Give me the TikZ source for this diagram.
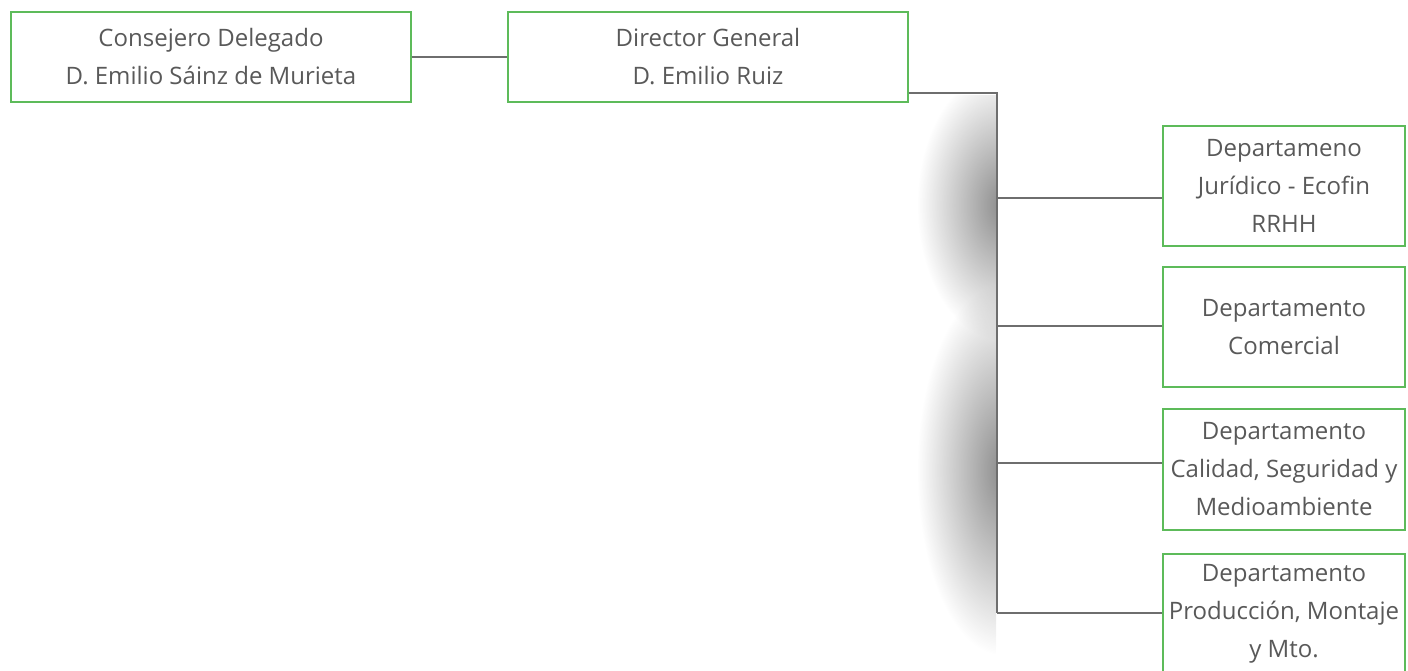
\documentclass[tikz,border=0pt]{standalone}
\usepackage{fontspec}
\setmainfont{Open Sans}
\usetikzlibrary{fadings}
\tikzfading[name=softedge, inner color=transparent!0, outer color=transparent!100]
\definecolor{boxgreen}{HTML}{5DBB5A}
\definecolor{txtgray}{HTML}{595959}
\definecolor{linegray}{HTML}{6E6E6E}
\begin{document}
\begin{tikzpicture}[x=1pt,y=-1pt,
  orgbox/.style={draw=boxgreen,line width=1.4pt,fill=white,rectangle,align=center,
    text=txtgray,font=\fontsize{24}{38}\selectfont,inner sep=0pt},
  topbox/.style={orgbox,minimum width=400pt,minimum height=90pt},
  deptbox/.style={orgbox,minimum width=242pt,minimum height=120pt},
  conn/.style={draw=linegray,line width=1.4pt}]
\useasboundingbox (0,0) rectangle (1408,670);
% soft shadow left of the vertical connector
\begin{scope}
  \clip (900,95) rectangle (996,670);
  \fill[black!45,path fading=softedge] (1002,205) ellipse [x radius=85pt,y radius=135pt];
  \fill[black!45,path fading=softedge] (1002,470) ellipse [x radius=85pt,y radius=185pt];
\end{scope}
\node[topbox] (cd) at (211,57) {Consejero Delegado\\D. Emilio Sáinz de Murieta};
\node[topbox] (dg) at (708,57) {Director General\\D. Emilio Ruiz};
\node[deptbox] (d1) at (1284,186) {Departameno\\Jurídico - Ecofin\\RRHH};
\node[deptbox] (d2) at (1284,327) {Departamento\\Comercial};
\node[deptbox,minimum height=121pt] (d3) at (1284,469.5) {Departamento\\Calidad, Seguridad y\\Medioambiente};
\node[deptbox] (d4) at (1284,614) {Departamento\\Producción, Montaje\\y Mto.};
\coordinate (j0) at (997,93);
\coordinate (j1) at (997,198);
\coordinate (j2) at (997,326);
\coordinate (j3) at (997,463);
\coordinate (j4) at (997,613);
\draw[conn] (cd.east) -- (dg.west);
\draw[conn] (dg.east |- j0) -- (j0) -- (j4);
\draw[conn] (j1) -- (d1.west |- j1);
\draw[conn] (j2) -- (d2.west |- j2);
\draw[conn] (j3) -- (d3.west |- j3);
\draw[conn] (j4) -- (d4.west |- j4);
\end{tikzpicture}
\end{document}
